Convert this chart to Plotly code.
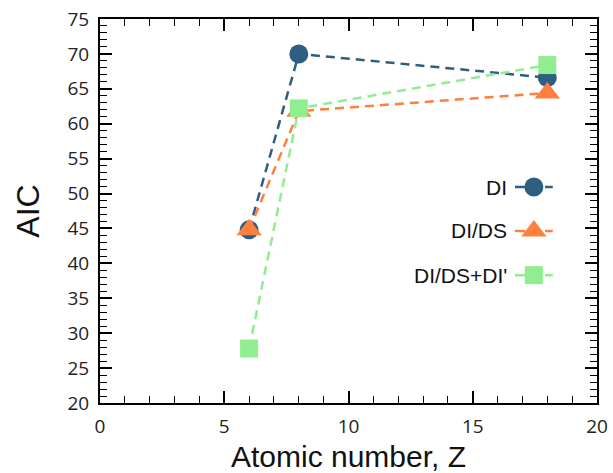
import plotly.graph_objects as go

# Atomic numbers (C, O, Ar) and AIC values for each model
z_values = [6, 8, 18]
aic_di = [44.8, 70.0, 66.6]
aic_di_ds = [44.8, 61.8, 64.4]
aic_di_ds_dip = [27.8, 62.2, 68.4]

series_names = ["DI", "DI/DS", "DI/DS+DI'"]
series_colors = ["#2e5e80", "#ff7f3f", "#90ee90"]
series_symbols = ["circle", "triangle-up", "square"]
series_sizes = [19, 22, 18]
series_values = [aic_di, aic_di_ds, aic_di_ds_dip]

x_ticks = [0, 5, 10, 15, 20]
y_ticks = [20, 25, 30, 35, 40, 45, 50, 55, 60, 65, 70, 75]

fig = go.Figure()

for name, color, sym, size, vals in zip(series_names, series_colors,
                                        series_symbols, series_sizes, series_values):
    fig.add_trace(go.Scatter(
        x=z_values, y=vals, name=name, mode="lines+markers",
        line=dict(color=color, width=2.5, dash="9px,6px"),
        marker=dict(symbol=sym, size=size, color=color, line=dict(width=0)),
        showlegend=False,
    ))

# Hand-built legend: label on the left, sample line + marker on the right
legend_rows = [0.5625, 0.448, 0.333]
for name, color, sym, size, row in zip(series_names, series_colors,
                                       series_symbols, series_sizes, legend_rows):
    fig.add_trace(go.Scatter(
        x=[0.835, 0.911], y=[row, row], xaxis="x2", yaxis="y2", mode="lines",
        line=dict(color=color, width=2.5, dash="10px,5px"), showlegend=False,
        hoverinfo="skip",
    ))
    fig.add_trace(go.Scatter(
        x=[0.873], y=[row], xaxis="x2", yaxis="y2", mode="markers",
        marker=dict(symbol=sym, size=size, color=color, line=dict(width=0)),
        showlegend=False, hoverinfo="skip",
    ))
    fig.add_annotation(
        x=0.822, y=row, xref="x2", yref="y2", text=name, showarrow=False,
        xanchor="right", yanchor="middle",
        font=dict(family="Liberation Sans", size=21, color="#111111"),
    )

axis_common = dict(
    showline=True, linecolor="black", linewidth=2, mirror="ticks",
    ticks="inside", ticklen=12, tickwidth=1.5, tickcolor="black",
    showgrid=False, zeroline=False, automargin=False,
    tickfont=dict(family="Open Sans", size=19, color="#222222"),
)

fig.update_layout(
    width=613, height=473,
    margin=dict(l=100, r=16, t=19, b=70),
    plot_bgcolor="white", paper_bgcolor="white",
    xaxis=dict(
        range=[0, 20], tickvals=x_ticks,
        minor=dict(dtick=1, ticks="inside", ticklen=7, tickwidth=1.2, tickcolor="black"),
        title=dict(text="Atomic number, Z", standoff=12,
                   font=dict(family="Liberation Sans", size=30, color="#111111")),
        ticklabelstandoff=5,
        **axis_common,
    ),
    yaxis=dict(
        range=[20, 75], tickvals=y_ticks,
        minor=dict(dtick=1, ticks="inside", ticklen=7, tickwidth=1.2, tickcolor="black"),
        title=dict(text="AIC", standoff=18,
                   font=dict(family="Liberation Sans", size=32, color="#111111")),
        ticklabelstandoff=5,
        **axis_common,
    ),
    xaxis2=dict(overlaying="x", range=[0, 1], visible=False, fixedrange=True),
    yaxis2=dict(overlaying="y", range=[0, 1], visible=False, fixedrange=True),
)

fig.write_html("out.html")
